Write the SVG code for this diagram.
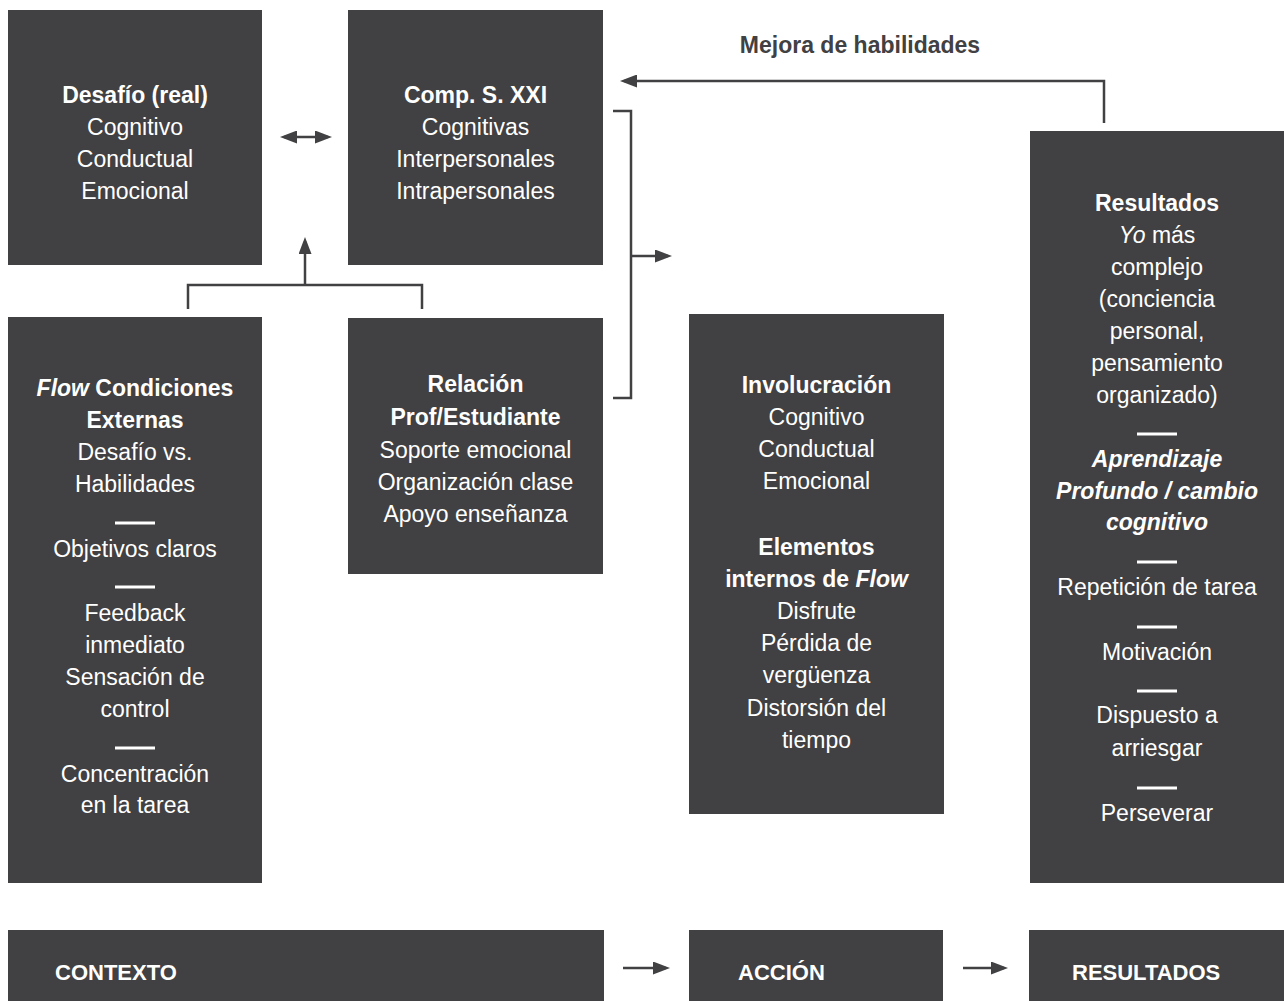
<svg xmlns="http://www.w3.org/2000/svg" width="1284" height="1001" viewBox="0 0 1284 1001">
<defs>
<style>
.box{fill:#414042}
.t{font-family:"Liberation Sans",Arial,sans-serif;font-size:23px;fill:#ffffff;text-anchor:middle}
.b{font-weight:bold}
.i{font-style:italic}
.rule{stroke:#ffffff;stroke-width:3}
.con{fill:none;stroke:#414042;stroke-width:2.5}
.bar{font-family:"Liberation Sans",Arial,sans-serif;font-size:22px;font-weight:bold;fill:#ffffff}
.lbl{font-family:"Liberation Sans",Arial,sans-serif;font-size:23px;font-weight:bold;fill:#414042;text-anchor:middle}
</style>
<marker id="ah" viewBox="0 0 17 13" refX="13" refY="6.5" markerWidth="17" markerHeight="13" markerUnits="userSpaceOnUse" orient="auto-start-reverse">
<path d="M0,0 L17,6.5 L0,13 z" fill="#414042"/>
</marker>
</defs>
<rect width="1284" height="1001" fill="#ffffff"/>

<g id="desafio">
<rect class="box" x="8" y="10" width="254" height="255"/>
<text class="t b" x="135" y="103">Desafío (real)</text>
<text class="t" x="135" y="135">Cognitivo</text>
<text class="t" x="135" y="167">Conductual</text>
<text class="t" x="135" y="199">Emocional</text>
</g>

<g id="comp">
<rect class="box" x="348" y="10" width="255" height="255"/>
<text class="t b" x="475.5" y="103">Comp. S. XXI</text>
<text class="t" x="475.5" y="135">Cognitivas</text>
<text class="t" x="475.5" y="167">Interpersonales</text>
<text class="t" x="475.5" y="199">Intrapersonales</text>
</g>

<g id="flow">
<rect class="box" x="8" y="317" width="254" height="566"/>
<text class="t b" x="135" y="396"><tspan class="i">Flow</tspan> Condiciones</text>
<text class="t b" x="135" y="428">Externas</text>
<text class="t" x="135" y="460">Desafío vs.</text>
<text class="t" x="135" y="492">Habilidades</text>
<line class="rule" x1="115" y1="523" x2="155" y2="523"/>
<text class="t" x="135" y="557">Objetivos claros</text>
<line class="rule" x1="115" y1="587" x2="155" y2="587"/>
<text class="t" x="135" y="621">Feedback</text>
<text class="t" x="135" y="653">inmediato</text>
<text class="t" x="135" y="685">Sensación de</text>
<text class="t" x="135" y="717">control</text>
<line class="rule" x1="115" y1="748" x2="155" y2="748"/>
<text class="t" x="135" y="782">Concentración</text>
<text class="t" x="135" y="813">en la tarea</text>
</g>

<g id="relacion">
<rect class="box" x="348" y="318" width="255" height="256"/>
<text class="t b" x="475.5" y="392">Relación</text>
<text class="t b" x="475.5" y="425">Prof/Estudiante</text>
<text class="t" x="475.5" y="458">Soporte emocional</text>
<text class="t" x="475.5" y="490">Organización clase</text>
<text class="t" x="475.5" y="522">Apoyo enseñanza</text>
</g>

<g id="involucracion">
<rect class="box" x="689" y="314" width="255" height="500"/>
<text class="t b" x="816.5" y="393">Involucración</text>
<text class="t" x="816.5" y="425">Cognitivo</text>
<text class="t" x="816.5" y="457">Conductual</text>
<text class="t" x="816.5" y="489">Emocional</text>
<text class="t b" x="816.5" y="555">Elementos</text>
<text class="t b" x="816.5" y="587">internos de <tspan class="i">Flow</tspan></text>
<text class="t" x="816.5" y="619">Disfrute</text>
<text class="t" x="816.5" y="651">Pérdida de</text>
<text class="t" x="816.5" y="683">vergüenza</text>
<text class="t" x="816.5" y="716">Distorsión del</text>
<text class="t" x="816.5" y="748">tiempo</text>
</g>

<g id="resultados">
<rect class="box" x="1030" y="131" width="254" height="752"/>
<text class="t b" x="1157" y="211">Resultados</text>
<text class="t" x="1157" y="243"><tspan class="i">Yo</tspan> más</text>
<text class="t" x="1157" y="275">complejo</text>
<text class="t" x="1157" y="307">(conciencia</text>
<text class="t" x="1157" y="339">personal,</text>
<text class="t" x="1157" y="371">pensamiento</text>
<text class="t" x="1157" y="403">organizado)</text>
<line class="rule" x1="1137" y1="434" x2="1177" y2="434"/>
<text class="t b i" x="1157" y="467">Aprendizaje</text>
<text class="t b i" x="1157" y="499">Profundo / cambio</text>
<text class="t b i" x="1157" y="530">cognitivo</text>
<line class="rule" x1="1137" y1="562" x2="1177" y2="562"/>
<text class="t" x="1157" y="595">Repetición de tarea</text>
<line class="rule" x1="1137" y1="627" x2="1177" y2="627"/>
<text class="t" x="1157" y="660">Motivación</text>
<line class="rule" x1="1137" y1="691" x2="1177" y2="691"/>
<text class="t" x="1157" y="723">Dispuesto a</text>
<text class="t" x="1157" y="756">arriesgar</text>
<line class="rule" x1="1137" y1="788" x2="1177" y2="788"/>
<text class="t" x="1157" y="821">Perseverar</text>
</g>

<g id="contexto">
<rect class="box" x="8" y="930" width="596" height="71"/>
<text class="bar" x="55" y="980">CONTEXTO</text>
</g>
<g id="accion">
<rect class="box" x="689" y="930" width="254" height="71"/>
<text class="bar" x="738" y="980">ACCIÓN</text>
</g>
<g id="resultados-bar">
<rect class="box" x="1029" y="930" width="255" height="71"/>
<text class="bar" x="1072" y="980">RESULTADOS</text>
</g>

<g id="connectors">
<path class="con" d="M284,137 H328" marker-start="url(#ah)" marker-end="url(#ah)"/>
<path class="con" d="M188,309 V285 H422 V309"/>
<path class="con" d="M305,285 V241" marker-end="url(#ah)"/>
<path class="con" d="M613,111 H631 V398 H613"/>
<path class="con" d="M631,256 H668" marker-end="url(#ah)"/>
<path class="con" d="M1104,123 V81 H624" marker-end="url(#ah)"/>
<text class="lbl" x="860" y="53">Mejora de habilidades</text>
<path class="con" d="M623,968 H666" marker-end="url(#ah)"/>
<path class="con" d="M963,968 H1004" marker-end="url(#ah)"/>
</g>
</svg>
